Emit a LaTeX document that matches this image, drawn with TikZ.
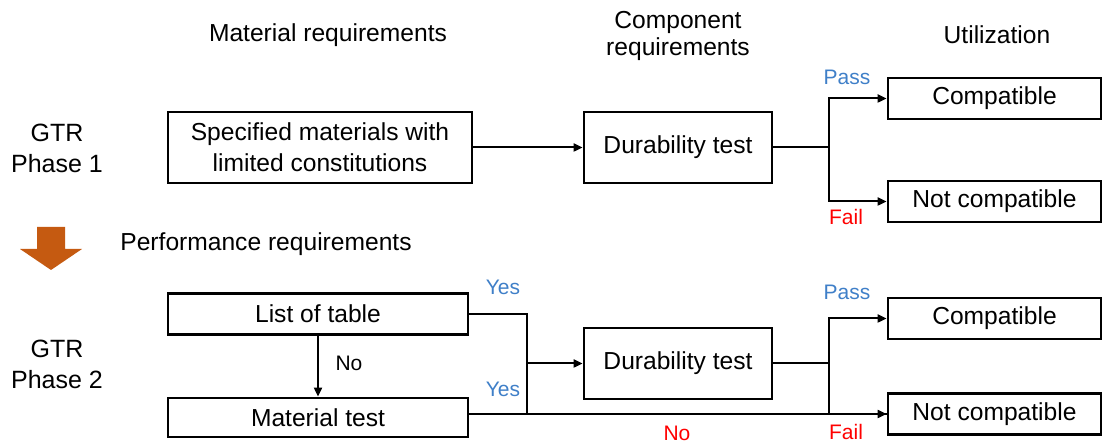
\documentclass[tikz,border=0pt]{standalone}
\usepackage{fontspec}
\setmainfont{Liberation Sans}
\usetikzlibrary{arrows.meta,calc}
\definecolor{passblue}{HTML}{3F7FC8}
\definecolor{failred}{HTML}{FF0000}
\definecolor{flowarrow}{HTML}{C55A11}
\tikzset{
  box/.style={draw, line width=1.4pt, rectangle, inner sep=0pt, align=center,
    font=\fontsize{12.3}{15.5}\selectfont},
  head/.style={align=center, font=\fontsize{12.3}{15}\selectfont},
  lbl/.style={inner sep=0pt, font=\fontsize{10.5}{12}\selectfont},
  link/.style={line width=1pt},
  arr/.style={line width=1pt, -{Triangle[length=4.5pt,width=4pt]}},
}
\begin{document}
\begin{tikzpicture}[x=0.5pt,y=-0.5pt]
\useasboundingbox (0,0) rectangle (1109,442);

% column headings
\node[head] (hmat) at (328,35) {Material requirements};
\node[head, font=\fontsize{12.3}{13.2}\selectfont] (hcomp) at (678,36) {Component\\requirements};
\node[head] (huse) at (997,35) {Utilization};

% row headings
\node[head, font=\fontsize{12.5}{15.5}\selectfont] (ph1) at (57,148) {GTR\\Phase 1};
\node[head, font=\fontsize{12.5}{15.5}\selectfont] (ph2) at (57,364) {GTR\\Phase 2};

% transition between the phases
\fill[flowarrow] (37,227) -- (65,227) -- (65,249) -- (82,249) -- (51,270) -- (20,249) -- (37,249) -- cycle;
\node[head, anchor=west, inner sep=0pt] (perf) at (120,244) {Performance requirements};

% phase 1
\node[box, minimum width=152pt, minimum height=35.5pt] (spec) at (320,147.5)
  {Specified materials with\\limited constitutions};
\node[box, minimum width=94pt, minimum height=35.5pt] (dur1) at (678,147.5) {Durability test};
\node[box, minimum width=106.5pt, minimum height=20.5pt] (comp1) at (994.5,98.5) {Compatible};
\node[box, minimum width=106.5pt, minimum height=20.5pt] (ncomp1) at (994.5,201.5) {Not compatible};
\coordinate (j1) at (829,147.5);

\draw[arr] (spec.east) -- (dur1.west);
\draw[link] (dur1.east) -- (j1);
\draw[arr] (j1) |- (comp1.west);
\draw[arr] (j1) |- (ncomp1.west);
\node[lbl, text=passblue] (pass1) at (847,77) {Pass};
\node[lbl, text=failred] (fail1) at (846,217) {Fail};

% phase 2
\node[box, minimum width=150pt, minimum height=20.5pt] (list) at (318,314) {List of table};
\node[box, minimum width=150pt, minimum height=19.5pt] (mat) at (318,417.5) {Material test};
\node[box, minimum width=94pt, minimum height=35.5pt] (dur2) at (678,363.5) {Durability test};
\node[box, minimum width=106.5pt, minimum height=20.5pt] (comp2) at (994.5,318.5) {Compatible};
\node[box, minimum width=106.5pt, minimum height=20.5pt] (ncomp2) at (994.5,414) {Not compatible};
\coordinate (j2) at (527,363.5);
\coordinate (j3) at (527,414);
\coordinate (j4) at (829,363.5);

\draw[arr] (list.south) -- (mat.north);
\draw[link] (list.east) -| (j3);
\draw[arr] (j2) -- (dur2.west);
\draw[arr] (mat.east |- ncomp2.west) -- (ncomp2.west);
\draw[link] (dur2.east) -- (j4);
\draw[arr] (j4) |- (comp2.west);
\draw[link] (j4) |- (ncomp2.west);

\node[lbl] (no1) at (349,363) {No};
\node[lbl, text=passblue] (yes1) at (503,287) {Yes};
\node[lbl, text=passblue] (yes2) at (503,389) {Yes};
\node[lbl, text=failred] (no2) at (677,433) {No};
\node[lbl, text=passblue] (pass2) at (847,292) {Pass};
\node[lbl, text=failred] (fail2) at (846,432) {Fail};
\end{tikzpicture}
\end{document}
